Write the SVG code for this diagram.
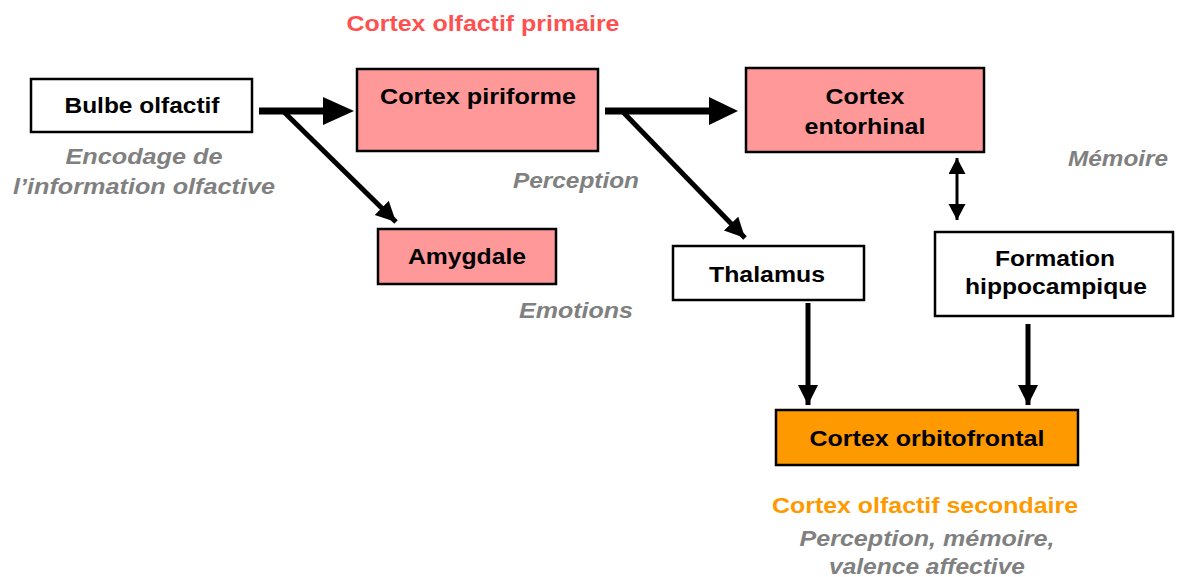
<svg xmlns="http://www.w3.org/2000/svg" width="1178" height="577" viewBox="0 0 1178 577">
<style>
.box{stroke:#000;stroke-width:2.5}
.w{fill:#fff}
.p{fill:#ff9999}
.o{fill:#ff9900}
.t{font-family:"Liberation Sans",Arial,sans-serif;font-weight:bold;font-size:22.5px;fill:#000;text-anchor:middle}
.g{font-family:"Liberation Sans",Arial,sans-serif;font-weight:bold;font-style:italic;font-size:22.5px;fill:#808080;text-anchor:middle}
.r{font-family:"Liberation Sans",Arial,sans-serif;font-weight:bold;font-size:22.5px;fill:#ff5050;text-anchor:middle}
.y{font-family:"Liberation Sans",Arial,sans-serif;font-weight:bold;font-size:22.5px;fill:#ff9900;text-anchor:middle}
.ln{stroke:#000;fill:none}
</style>
<defs>
<marker id="ah" markerUnits="userSpaceOnUse" markerWidth="22" markerHeight="22" refX="20" refY="10" orient="auto"><path d="M0,0 L20,10 L0,20 z" fill="#000"/></marker>
<marker id="ahs" markerUnits="userSpaceOnUse" markerWidth="18" markerHeight="18" refX="16" refY="8.5" orient="auto-start-reverse"><path d="M0,0 L16,8.5 L0,17 z" fill="#000"/></marker>
</defs>
<g id="labels">
<text class="r" x="483" y="31" textLength="273" lengthAdjust="spacingAndGlyphs">Cortex olfactif primaire</text>
<text class="g" x="144" y="164" textLength="157" lengthAdjust="spacingAndGlyphs">Encodage de</text>
<text class="g" x="144" y="194" textLength="262" lengthAdjust="spacingAndGlyphs">l’information olfactive</text>
<text class="g" x="576" y="188" textLength="126" lengthAdjust="spacingAndGlyphs">Perception</text>
<text class="g" x="576" y="318" textLength="114" lengthAdjust="spacingAndGlyphs">Emotions</text>
<text class="g" x="1118" y="166" textLength="100" lengthAdjust="spacingAndGlyphs">Mémoire</text>
<text class="y" x="925" y="513" textLength="306" lengthAdjust="spacingAndGlyphs">Cortex olfactif secondaire</text>
<text class="g" x="927" y="546" textLength="255" lengthAdjust="spacingAndGlyphs">Perception, mémoire,</text>
<text class="g" x="927" y="574" textLength="196" lengthAdjust="spacingAndGlyphs">valence affective</text>
</g>
<g id="connectors">
<line class="ln" x1="259" y1="111" x2="326" y2="111" stroke-width="7"/>
<path d="M323,97 L354,111 L323,125 z" fill="#000"/>
<line class="ln" x1="605" y1="111" x2="712" y2="111" stroke-width="7"/>
<path d="M709,97 L738,111 L709,125 z" fill="#000"/>
<line class="ln" x1="284" y1="112" x2="396" y2="222" stroke-width="5" marker-end="url(#ah)"/>
<line class="ln" x1="623" y1="112" x2="745" y2="238" stroke-width="5" marker-end="url(#ah)"/>
<line class="ln" x1="957" y1="158" x2="957" y2="220" stroke-width="3" marker-start="url(#ahs)" marker-end="url(#ahs)"/>
<line class="ln" x1="808" y1="303" x2="808" y2="405" stroke-width="5" marker-end="url(#ah)"/>
<line class="ln" x1="1028" y1="324" x2="1028" y2="405" stroke-width="5" marker-end="url(#ah)"/>
</g>
<g id="bulbe"><rect class="box w" x="31" y="79" width="221" height="53"/><text class="t" x="142" y="113" textLength="155" lengthAdjust="spacingAndGlyphs">Bulbe olfactif</text></g>
<g id="piriforme"><rect class="box p" x="357" y="69" width="241" height="82"/><text class="t" x="478" y="104" textLength="196" lengthAdjust="spacingAndGlyphs">Cortex piriforme</text></g>
<g id="entorhinal"><rect class="box p" x="746" y="68" width="238" height="84"/><text class="t" x="865" y="104" textLength="79" lengthAdjust="spacingAndGlyphs">Cortex</text><text class="t" x="865" y="134" textLength="121" lengthAdjust="spacingAndGlyphs">entorhinal</text></g>
<g id="amygdale"><rect class="box p" x="378" y="229" width="178" height="55"/><text class="t" x="467" y="264" textLength="118" lengthAdjust="spacingAndGlyphs">Amygdale</text></g>
<g id="thalamus"><rect class="box w" x="673" y="246" width="191" height="54"/><text class="t" x="767" y="282" textLength="116" lengthAdjust="spacingAndGlyphs">Thalamus</text></g>
<g id="hippocampe"><rect class="box w" x="935" y="232" width="238" height="84"/><text class="t" x="1055" y="266" textLength="120" lengthAdjust="spacingAndGlyphs">Formation</text><text class="t" x="1056" y="294" textLength="182" lengthAdjust="spacingAndGlyphs">hippocampique</text></g>
<g id="orbitofrontal"><rect class="box o" x="776" y="410" width="302" height="55"/><text class="t" x="927" y="446" textLength="235" lengthAdjust="spacingAndGlyphs">Cortex orbitofrontal</text></g>
</svg>
